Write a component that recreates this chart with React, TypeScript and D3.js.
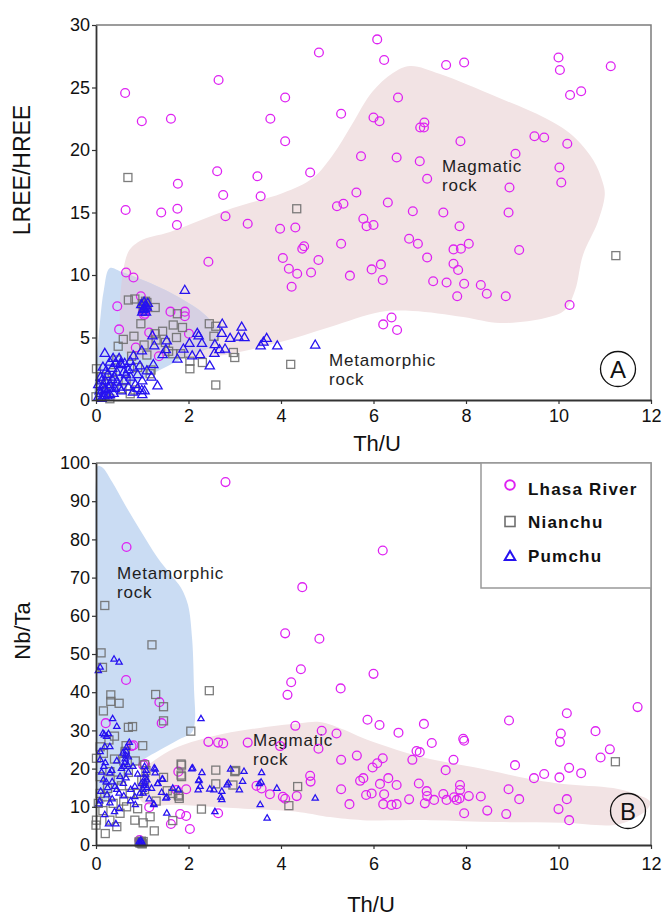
import React, { useEffect, useRef } from 'react';
import * as d3 from 'd3';

const W = 668;
const H = 916;
const FONT = 'Liberation Sans, Arial, Helvetica, sans-serif';

// ---- panel A: Th/U vs LREE/HREE ----
const lhasaA: [number, number][] = [
  [0.63, 24.56], [0.99, 22.3], [1.62, 22.5], [2.65, 25.6], [4.82, 27.8], [4.09, 24.2], [3.77, 22.5],
  [4.09, 20.7], [5.3, 22.9], [2.62, 18.3], [3.49, 17.9], [1.77, 17.3], [2.75, 16.4], [3.56, 16.3],
  [4.63, 18.2], [0.64, 15.2], [1.41, 15.0], [1.76, 15.3], [2.8, 14.7], [1.75, 14.0], [3.28, 14.1],
  [3.98, 13.7], [4.31, 13.8], [5.21, 15.5], [6.08, 28.85], [6.23, 27.2], [7.57, 26.8], [7.96, 27.0],
  [10.0, 27.4], [10.03, 26.4], [11.13, 26.7], [6.53, 24.2], [10.25, 24.4], [10.49, 24.7], [6.0, 22.6],
  [6.13, 22.3], [7.1, 22.2], [7.01, 21.8], [7.09, 21.8], [7.88, 20.7], [9.48, 21.1], [9.69, 21.0],
  [10.19, 20.5], [9.07, 19.7], [5.73, 19.5], [6.5, 19.4], [7.0, 19.1], [7.16, 17.7], [10.02, 18.6],
  [10.06, 17.4], [8.94, 17.0], [5.63, 16.6], [5.35, 15.7], [6.31, 15.8], [6.85, 15.1], [7.51, 15.0],
  [8.92, 15.0], [5.78, 14.5], [5.85, 13.9], [6.0, 14.0], [7.86, 13.9], [6.77, 12.9], [6.96, 12.5],
  [8.06, 12.5], [7.73, 12.05], [7.89, 12.1], [9.15, 12.0], [5.3, 12.5], [7.16, 11.4], [6.16, 10.85],
  [5.96, 10.45], [7.73, 10.9], [7.83, 10.4], [5.49, 9.95], [6.2, 9.6], [7.29, 9.5], [7.58, 9.4],
  [7.96, 9.3], [8.32, 9.2], [8.45, 8.5], [8.86, 8.3], [7.81, 8.3], [10.24, 7.6], [6.39, 6.6],
  [6.21, 6.05], [6.51, 5.6], [2.43, 11.06], [4.04, 11.36], [4.17, 10.5], [4.35, 10.1], [4.23, 9.06],
  [4.65, 10.2], [4.81, 11.2], [4.46, 12.1], [4.5, 12.3], [0.65, 10.2], [0.81, 9.8], [0.46, 7.5],
  [0.5, 5.65], [0.97, 8.3], [1.61, 7.07], [1.92, 7.07], [1.92, 6.7], [2.01, 5.3], [1.15, 5.4],
  [0.86, 4.2], [1.36, 3.5], [1.06, 6.9], [1.02, 7.1], [1.08, 7.2], [1.04, 6.8],
];
const nianchuA: [number, number][] = [
  [0.69, 17.8], [4.34, 15.3], [11.24, 11.55], [0.7, 8.0], [0.84, 8.08], [1.28, 7.4], [1.06, 7.6],
  [1.1, 7.8], [1.02, 7.3], [1.03, 7.5], [1.07, 7.9], [1.0, 7.7], [0.97, 6.1], [1.76, 6.9], [1.87, 5.8],
  [1.67, 6.0], [1.44, 5.5], [1.74, 5.0], [0.82, 5.1], [0.59, 4.85], [0.48, 4.3], [1.04, 4.4], [1.57, 3.9],
  [1.66, 3.7], [2.45, 6.1], [2.59, 5.9], [2.55, 5.1], [2.03, 3.1], [2.3, 3.0], [2.97, 3.8], [3.0, 3.4],
  [2.59, 1.2], [4.21, 2.85], [1.17, 2.1], [1.19, 2.4], [0.74, 0.5], [0.84, 0.8], [0.01, 2.5], [0.0, 0.26],
  [1.28, 5.3], [1.1, 3.6], [1.83, 3.7], [0.77, 3.5], [0.45, 3.2], [0.12, 1.86], [0.56, 0.9], [2.03, 2.5],
  [0.3, 0.1], [0.2, 0.6], [0.35, 2.2], [0.9, 2.6], [0.65, 1.6], [1.3, 4.8], [1.5, 4.6], [0.25, 1.3],
];
const pumchuA: [number, number][] = [
  [1.92, 8.75], [1.06, 7.5], [1.02, 7.2], [1.1, 7.4], [1.04, 7.8], [1.08, 7.0], [0.98, 7.6], [1.12, 7.7],
  [1.05, 7.3], [1.0, 7.0], [2.73, 6.05], [3.15, 5.8], [2.19, 5.3], [2.22, 5.1], [2.72, 5.3], [2.9, 4.9],
  [3.08, 5.0], [3.21, 4.96], [3.69, 4.9], [3.62, 4.6], [3.56, 4.3], [3.92, 4.3], [4.74, 4.37], [2.02, 4.5],
  [2.29, 4.5], [2.57, 4.4], [2.79, 4.05], [2.67, 4.0], [2.56, 3.7], [2.08, 3.5], [2.25, 3.6], [2.46, 2.7],
  [1.76, 3.25], [1.89, 4.05], [1.53, 4.7], [1.51, 4.0], [1.22, 5.1], [1.26, 4.3], [1.44, 3.6], [1.24, 2.8],
  [0.99, 3.9], [0.81, 3.5], [0.74, 3.07], [0.53, 2.9], [0.19, 3.7], [0.37, 3.3], [0.95, 2.7], [1.33, 1.1],
  [0.99, 0.75], [1.05, 0.7], [0.05, 0.2], [0.1, 0.5], [0.15, 1.0], [0.2, 1.5], [0.1, 1.8], [0.25, 2.0],
  [0.3, 1.2], [0.35, 2.5], [0.4, 1.8], [0.45, 2.2], [0.5, 1.0], [0.55, 2.8], [0.6, 1.5], [0.65, 2.0],
  [0.7, 2.4], [0.75, 1.8], [0.8, 2.6], [0.85, 1.2], [0.9, 2.0], [0.2, 0.8], [0.3, 0.4], [0.4, 0.9],
  [0.15, 2.6], [0.3, 3.0], [0.5, 3.3], [0.6, 2.2], [0.7, 1.0], [0.8, 0.6], [1.0, 1.5], [1.1, 2.3],
  [0.05, 1.2], [0.12, 0.1], [0.25, 0.3], [0.35, 1.6], [0.45, 1.4], [0.55, 0.7], [1.2, 1.8], [0.9, 0.9],
  [1.0, 0.4], [0.08, 0.7], [0.18, 0.3], [0.28, 0.9], [0.38, 0.5], [0.22, 2.3], [0.42, 2.9], [0.62, 2.9],
  [0.12, 1.5],
];

// ---- panel B: Th/U vs Nb/Ta ----
const lhasaB: [number, number][] = [
  [2.8, 95.0], [0.66, 78.0], [4.46, 67.5], [4.09, 55.4], [4.83, 54.0], [4.43, 46.0], [4.22, 42.6],
  [0.65, 43.2], [5.29, 41.0], [6.2, 77.1], [6.0, 44.8], [4.14, 39.3], [1.37, 37.4], [1.42, 31.9],
  [0.21, 31.9], [4.31, 31.2], [4.88, 29.9], [5.2, 29.2], [2.43, 27.0], [2.64, 26.8], [2.75, 26.6],
  [3.28, 26.8], [3.98, 25.9], [4.81, 25.2], [5.3, 22.3], [0.81, 26.1], [1.02, 20.9], [1.78, 19.2],
  [4.63, 18.1], [4.64, 16.6], [3.47, 15.5], [3.58, 14.8], [3.76, 13.3], [4.04, 12.6], [4.09, 12.1],
  [4.34, 12.8], [5.3, 14.6], [1.95, 14.6], [1.15, 9.9], [1.82, 8.1], [1.95, 7.6], [2.64, 8.3],
  [1.62, 5.5], [2.03, 4.2], [0.94, 1.3], [0.97, 0.8], [1.74, 14.4], [1.06, 21.2], [0.77, 25.9],
  [11.71, 36.1], [10.18, 34.5], [5.87, 32.8], [6.13, 31.4], [7.09, 31.7], [8.93, 32.6], [10.8, 29.8],
  [10.05, 29.2], [6.54, 29.4], [7.94, 27.8], [7.96, 27.3], [10.03, 27.0], [7.26, 26.7], [11.11, 25.05],
  [10.91, 22.9], [6.93, 24.6], [7.0, 24.3], [5.64, 23.4], [6.2, 22.7], [6.84, 22.3], [7.73, 22.3],
  [6.08, 21.4], [5.98, 20.3], [9.06, 20.9], [7.56, 19.6], [10.23, 20.2], [10.49, 18.8], [9.69, 18.6],
  [9.47, 17.5], [10.02, 17.7], [6.32, 17.5], [5.78, 17.5], [5.71, 16.8], [6.14, 16.0], [6.5, 15.7],
  [6.98, 16.1], [7.87, 15.7], [8.92, 14.6], [7.15, 14.1], [7.87, 14.4], [5.96, 13.5], [5.84, 13.1],
  [6.23, 13.3], [7.16, 12.8], [7.51, 13.35], [7.74, 12.5], [7.86, 12.2], [8.06, 12.8], [8.32, 12.7],
  [9.15, 12.0], [10.18, 12.0], [6.77, 11.95], [7.31, 11.8], [7.58, 11.8], [7.8, 11.8], [5.48, 10.7],
  [6.21, 10.7], [6.39, 10.5], [6.5, 10.7], [7.11, 10.9], [8.46, 9.0], [7.96, 8.3], [8.87, 8.1],
  [10.0, 9.4], [10.23, 6.5],
];
const nianchuB: [number, number][] = [
  [11.23, 21.8], [0.19, 62.7], [1.21, 52.4], [0.11, 50.3], [0.14, 46.5], [1.29, 39.4], [1.46, 36.2],
  [0.32, 39.3], [0.32, 37.6], [0.5, 37.1], [2.45, 40.4], [0.16, 35.1], [1.46, 32.5], [0.7, 30.8],
  [0.79, 31.0], [2.05, 29.8], [1.01, 26.0], [0.63, 24.0], [0.09, 25.7], [0.01, 22.7], [0.16, 24.0],
  [2.59, 19.6], [3.0, 19.2], [1.84, 21.2], [1.84, 18.3], [2.59, 16.0], [2.96, 15.7], [1.79, 12.8],
  [1.8, 12.2], [1.54, 14.2], [1.66, 13.5], [2.28, 9.4], [1.26, 3.7], [0.84, 6.5], [1.02, 5.8],
  [1.17, 7.4], [1.66, 6.4], [4.17, 10.3], [0.0, 5.2], [0.01, 6.5], [0.3, 6.5], [0.45, 4.8], [0.19, 12.6],
  [0.37, 10.9], [0.52, 8.3], [0.66, 10.0], [0.74, 13.5], [0.48, 17.0], [0.3, 19.2], [0.09, 17.9],
  [0.99, 17.0], [0.91, 13.5], [0.09, 13.5], [0.05, 10.9], [4.36, 15.3], [3.02, 19.5], [1.85, 20.9],
  [1.85, 17.9], [1.46, 17.7], [1.78, 13.1], [0.95, 0.5], [0.98, 1.0], [1.0, 0.3], [0.93, 0.8],
  [0.97, 0.6], [1.02, 0.9], [0.99, 0.4], [0.6, 22.0], [0.63, 24.5], [0.65, 26.0], [1.05, 14.5],
  [1.05, 17.0], [1.08, 19.5], [1.05, 21.0], [0.28, 27.5], [0.4, 22.5], [0.55, 15.5], [0.25, 14.8],
  [0.7, 19.0], [0.85, 22.0], [0.2, 3.0], [0.6, 11.5], [0.4, 28.5], [0.15, 9.0], [0.9, 9.5], [1.3, 11.5],
];
const pumchuB: [number, number][] = [
  [0.39, 48.6], [0.5, 47.8], [0.09, 46.5], [0.05, 45.6], [2.27, 33.0], [0.36, 33.0], [0.45, 31.0],
  [0.72, 26.8], [0.23, 28.4], [0.27, 29.1], [0.18, 28.8], [2.09, 20.1], [2.29, 18.9], [2.91, 19.8],
  [3.2, 19.2], [3.58, 18.9], [1.26, 20.1], [1.28, 18.8], [1.44, 17.2], [1.34, 16.1], [2.22, 16.8],
  [2.25, 15.3], [2.21, 14.4], [1.66, 14.8], [1.78, 14.4], [1.42, 13.7], [1.51, 12.2], [1.25, 10.7],
  [2.46, 14.6], [2.55, 14.4], [2.72, 14.0], [2.7, 12.5], [2.72, 11.8], [2.83, 15.7], [2.86, 16.2],
  [3.1, 14.4], [3.17, 16.6], [3.53, 16.0], [3.57, 16.4], [3.91, 14.8], [2.57, 8.7], [3.55, 10.5],
  [3.7, 7.0], [1.53, 8.3], [1.02, 13.5], [0.15, 29.2], [0.3, 25.7], [0.19, 25.7], [0.09, 24.4],
  [2.07, 19.9], [2.23, 17.0], [1.53, 12.5], [1.43, 17.2], [1.28, 19.8], [1.33, 16.0], [1.25, 10.5],
  [4.74, 12.2], [0.43, 5.5], [0.4, 8.7], [0.27, 5.5], [0.19, 7.9], [0.06, 10.7], [0.08, 11.5],
  [0.24, 13.1], [0.41, 15.3], [0.45, 14.5], [0.16, 17.0], [0.22, 16.5], [0.3, 18.8], [0.34, 19.5],
  [0.17, 20.5], [0.2, 21.5], [0.09, 22.3], [0.52, 17.9], [0.59, 16.1], [0.65, 17.5], [0.7, 19.0],
  [0.84, 15.3], [0.84, 12.6], [0.95, 13.5], [0.75, 14.5], [0.6, 20.5], [0.62, 21.5], [0.63, 22.5],
  [0.64, 23.5], [0.65, 24.5], [0.66, 25.5], [0.68, 21.0], [0.7, 23.0], [0.58, 24.0], [1.02, 14.5],
  [1.04, 15.5], [1.05, 16.5], [1.06, 17.5], [1.07, 18.5], [1.08, 19.5], [1.05, 20.5], [1.1, 15.0],
  [1.1, 17.0], [0.98, 16.0], [0.93, 0.8], [0.96, 0.5], [0.99, 0.8], [1.0, 0.4], [0.97, 1.2],
  [0.12, 19.0], [0.25, 15.0], [0.35, 16.5], [0.5, 13.5], [0.55, 20.0], [0.45, 22.0], [0.8, 20.5],
  [0.9, 18.5], [0.35, 12.0], [0.6, 12.8], [0.1, 14.0], [0.3, 11.0], [0.75, 11.5], [1.15, 12.0],
  [0.5, 9.5], [0.85, 10.5], [1.2, 14.8],
];

// field outlines (Th/U, ratio)
const magmaticA: [number, number][] = [
  [0.67, 11.6], [0.95, 12.72], [1.6, 13.44], [2.96, 15.36], [4.04, 16.56], [4.69, 17.76], [5.12, 19.6],
  [5.54, 22.08], [5.97, 24.64], [6.42, 26.16], [6.79, 26.72], [7.44, 26.08], [8.67, 24.24], [9.71, 22.56],
  [10.29, 21.2], [10.75, 19.2], [10.96, 17.36], [11.0, 16.4], [10.85, 14.24], [10.53, 11.6], [10.36, 8.8],
  [10.14, 7.2], [9.71, 6.56], [8.74, 6.16], [7.94, 6.64], [6.85, 7.12], [6.14, 7.04], [5.06, 5.84],
  [3.91, 4.56], [2.46, 3.44], [1.38, 3.52], [0.67, 3.6],
];
const metamorphicA: [number, number][] = [
  [0.3, 10.56], [0.56, 10.24], [1.17, 9.36], [1.82, 8.16], [2.36, 6.8], [2.68, 5.2], [2.57, 4.4],
  [2.03, 3.6], [1.38, 2.4], [0.74, 1.2], [0.19, 0.16], [0.0, 0.0], [0.02, 3.2], [0.09, 6.4], [0.17, 8.8],
];
const magmaticB: [number, number][] = [
  [1.02, 19.6], [1.28, 22.3], [1.71, 25.4], [2.46, 28.3], [3.39, 30.4], [4.41, 31.9], [4.84, 32.2],
  [5.38, 30.1], [5.77, 28.0], [6.51, 24.9], [7.22, 22.5], [8.15, 20.4], [9.38, 17.3], [10.1, 16.0],
  [11.18, 14.9], [11.65, 13.4], [11.98, 11.3], [11.91, 9.2], [11.55, 6.5], [11.18, 5.2], [10.1, 5.8],
  [8.67, 6.0], [7.22, 6.5], [5.77, 6.5], [5.06, 7.3], [4.41, 8.6], [2.96, 9.7], [1.88, 10.5],
  [1.02, 11.0], [0.91, 14.4],
];
const metamorphicB: [number, number][] = [
  [0.04, 99.2], [0.15, 98.7], [0.35, 95.0], [0.63, 89.0], [0.95, 82.5], [1.32, 75.4], [1.64, 70.4],
  [1.84, 67.3], [1.99, 62.8], [2.08, 53.7], [2.12, 40.6], [2.14, 32.7], [2.08, 29.6], [1.77, 27.5],
  [1.38, 24.9], [1.02, 22.3], [0.74, 19.1], [0.41, 14.4], [0.09, 10.5], [0.02, 22.3], [0.0, 64.1],
  [0.0, 95.5],
];

const xTicks = [0, 2, 4, 6, 8, 10, 12];
const yTicksA = [0, 5, 10, 15, 20, 25, 30];
const yTicksB = [0, 10, 20, 30, 40, 50, 60, 70, 80, 90, 100];
const legendItems = ['Lhasa River', 'Nianchu', 'Pumchu'];

const MAGENTA = '#de22f2';
const GRAY = '#6f6f6f';
const BLUE = '#2612f0';
const PINK = '#f2e3e4';
const LIGHTBLUE = '#cadcf3';
const OVERLAP = '#d6d0e3';

function drawPanel(svg, o) {
  const x = d3.scaleLinear().domain([0, 12]).range([96, 651]);
  const y = d3.scaleLinear().domain(o.yDomain).range(o.yRange);
  const g = svg.append('g');
  const area = d3
    .line()
    .x(d => x(d[0]))
    .y(d => y(d[1]))
    .curve(d3.curveCatmullRomClosed.alpha(0.5));

  g.append('path').attr('d', area(o.magmatic)).attr('fill', PINK);
  g.append('path').attr('d', area(o.metamorphic)).attr('fill', LIGHTBLUE);
  if (o.overlap) {
    g.append('clipPath').attr('id', o.id + 'clip').append('path').attr('d', area(o.magmatic));
    g.append('path')
      .attr('d', area(o.metamorphic))
      .attr('fill', OVERLAP)
      .attr('clip-path', `url(#${o.id}clip)`);
  }

  // frame top/right
  g.append('path')
    .attr('d', `M${x(0)},${y(o.yDomain[1])}H${x(12)}V${y(0)}`)
    .attr('fill', 'none')
    .attr('stroke', '#7c7c7c')
    .attr('stroke-width', 1.5);

  // field labels
  o.labels.forEach(l => {
    const t = g
      .append('text')
      .attr('x', l.x)
      .attr('y', l.y)
      .attr('font-family', FONT)
      .attr('font-size', 17)
      .attr('letter-spacing', 0.8)
      .attr('fill', '#1e1e1e');
    t.append('tspan').attr('x', l.x).text(l.t1);
    t.append('tspan').attr('x', l.x).attr('dy', 19).text('rock');
  });

  // data
  g.append('g')
    .selectAll('circle')
    .data(o.lhasa)
    .join('circle')
    .attr('cx', d => x(d[0]))
    .attr('cy', d => y(d[1]))
    .attr('r', 4.4)
    .attr('fill', 'none')
    .attr('stroke', MAGENTA)
    .attr('stroke-width', 1.3);
  g.append('g')
    .selectAll('rect')
    .data(o.nianchu)
    .join('rect')
    .attr('x', d => x(d[0]) - 4)
    .attr('y', d => y(d[1]) - 4)
    .attr('width', 8)
    .attr('height', 8)
    .attr('fill', 'none')
    .attr('stroke', GRAY)
    .attr('stroke-opacity', 0.9)
    .attr('stroke-width', 1.3);
  const tri = d3.symbol(d3.symbolTriangle, o.triSize);
  g.append('g')
    .selectAll('path')
    .data(o.pumchu)
    .join('path')
    .attr('d', tri)
    .attr('transform', d => `translate(${x(d[0])},${y(d[1])})`)
    .attr('fill', 'none')
    .attr('stroke', BLUE)
    .attr('stroke-width', 1.25);

  // axes
  const ax = g
    .append('g')
    .attr('transform', `translate(0,${y(0)})`)
    .call(d3.axisBottom(x).tickValues(xTicks).tickSize(4).tickSizeOuter(0).tickPadding(o.xPad));
  const ay = g
    .append('g')
    .attr('transform', `translate(${x(0)},0)`)
    .call(d3.axisLeft(y).tickValues(o.yTicks).tickSize(4).tickSizeOuter(0).tickPadding(2));
  [ax, ay].forEach(a => {
    a.attr('font-family', FONT).attr('font-size', 18);
    a.select('.domain').attr('stroke', '#333').attr('stroke-width', 1.8);
    a.selectAll('line').attr('stroke', '#333').attr('stroke-width', 1.2);
    a.selectAll('text').attr('fill', '#111');
  });

  g.append('text')
    .attr('x', o.xTitle[0])
    .attr('y', o.xTitle[1])
    .attr('text-anchor', 'middle')
    .attr('font-family', FONT)
    .attr('font-size', 22)
    .attr('fill', '#111')
    .text('Th/U');
  g.append('text')
    .attr('transform', `translate(${o.yTitle[0]},${o.yTitle[1]}) rotate(-90)`)
    .attr('text-anchor', 'middle')
    .attr('font-family', FONT)
    .attr('font-size', o.yTitleSize)
    .attr('fill', '#111')
    .text(o.yLabel);

  // panel letter
  g.append('circle')
    .attr('cx', o.letterPos[0])
    .attr('cy', o.letterPos[1])
    .attr('r', 17.5)
    .attr('fill', 'none')
    .attr('stroke', '#111')
    .attr('stroke-width', 1.3);
  g.append('text')
    .attr('x', o.letterPos[0])
    .attr('y', o.letterPos[1] + 8.5)
    .attr('text-anchor', 'middle')
    .attr('font-family', FONT)
    .attr('font-size', 24)
    .attr('fill', '#111')
    .text(o.letter);
}

function App() {
  const svgRef = useRef(null);
  useEffect(() => {
    const svg = d3.select(svgRef.current);
    svg.selectAll('*').remove();

    drawPanel(svg, {
      id: 'a',
      yDomain: [0, 30],
      yRange: [400, 25],
      yTicks: yTicksA,
      lhasa: lhasaA,
      nianchu: nianchuA,
      pumchu: pumchuA,
      magmatic: magmaticA,
      metamorphic: metamorphicA,
      overlap: true,
      triSize: 38,
      xPad: 5,
      labels: [
        { x: 442, y: 172, t1: 'Magmatic' },
        { x: 329, y: 366, t1: 'Metamorphic' },
      ],
      xTitle: [377, 451],
      yTitle: [30, 170],
      yTitleSize: 23,
      yLabel: 'LREE/HREE',
      letter: 'A',
      letterPos: [618, 369],
    });

    drawPanel(svg, {
      id: 'b',
      yDomain: [0, 100],
      yRange: [845, 463],
      yTicks: yTicksB,
      lhasa: lhasaB,
      nianchu: nianchuB,
      pumchu: pumchuB,
      magmatic: magmaticB,
      metamorphic: metamorphicB,
      overlap: false,
      triSize: 17,
      xPad: 8,
      labels: [
        { x: 117, y: 579, t1: 'Metamorphic' },
        { x: 253, y: 746, t1: 'Magmatic' },
      ],
      xTitle: [371, 912],
      yTitle: [30, 631],
      yTitleSize: 22,
      yLabel: 'Nb/Ta',
      letter: 'B',
      letterPos: [628, 811],
    });

    // legend
    const lg = svg.append('g');
    lg.append('rect')
      .attr('x', 481)
      .attr('y', 463)
      .attr('width', 170)
      .attr('height', 125)
      .attr('fill', '#fff')
      .attr('stroke', '#999')
      .attr('stroke-width', 1.5);
    const rows = [485, 521.5, 557];
    lg.append('circle').attr('cx', 510).attr('cy', rows[0]).attr('r', 4.8)
      .attr('fill', 'none').attr('stroke', MAGENTA).attr('stroke-width', 2);
    lg.append('rect').attr('x', 505).attr('y', rows[1] - 5).attr('width', 10).attr('height', 10)
      .attr('fill', 'none').attr('stroke', GRAY).attr('stroke-width', 1.6);
    lg.append('path').attr('d', d3.symbol(d3.symbolTriangle, 48)())
      .attr('transform', `translate(510,${rows[2]})`)
      .attr('fill', 'none').attr('stroke', BLUE).attr('stroke-width', 2);
    lg.selectAll('text.lab')
      .data(legendItems)
      .join('text')
      .attr('class', 'lab')
      .attr('x', 528)
      .attr('y', (d, i) => [495, 528, 561.5][i])
      .attr('font-family', FONT)
      .attr('font-size', 17)
      .attr('font-weight', 'bold')
      .attr('letter-spacing', 1.2)
      .attr('fill', '#111')
      .text(d => d);
  }, []);

  return (
    <svg
      ref={svgRef}
      width={W}
      height={H}
      style={{ position: 'absolute', left: 0, top: 0, background: '#fff' }}
    />
  );
}

export default App;
